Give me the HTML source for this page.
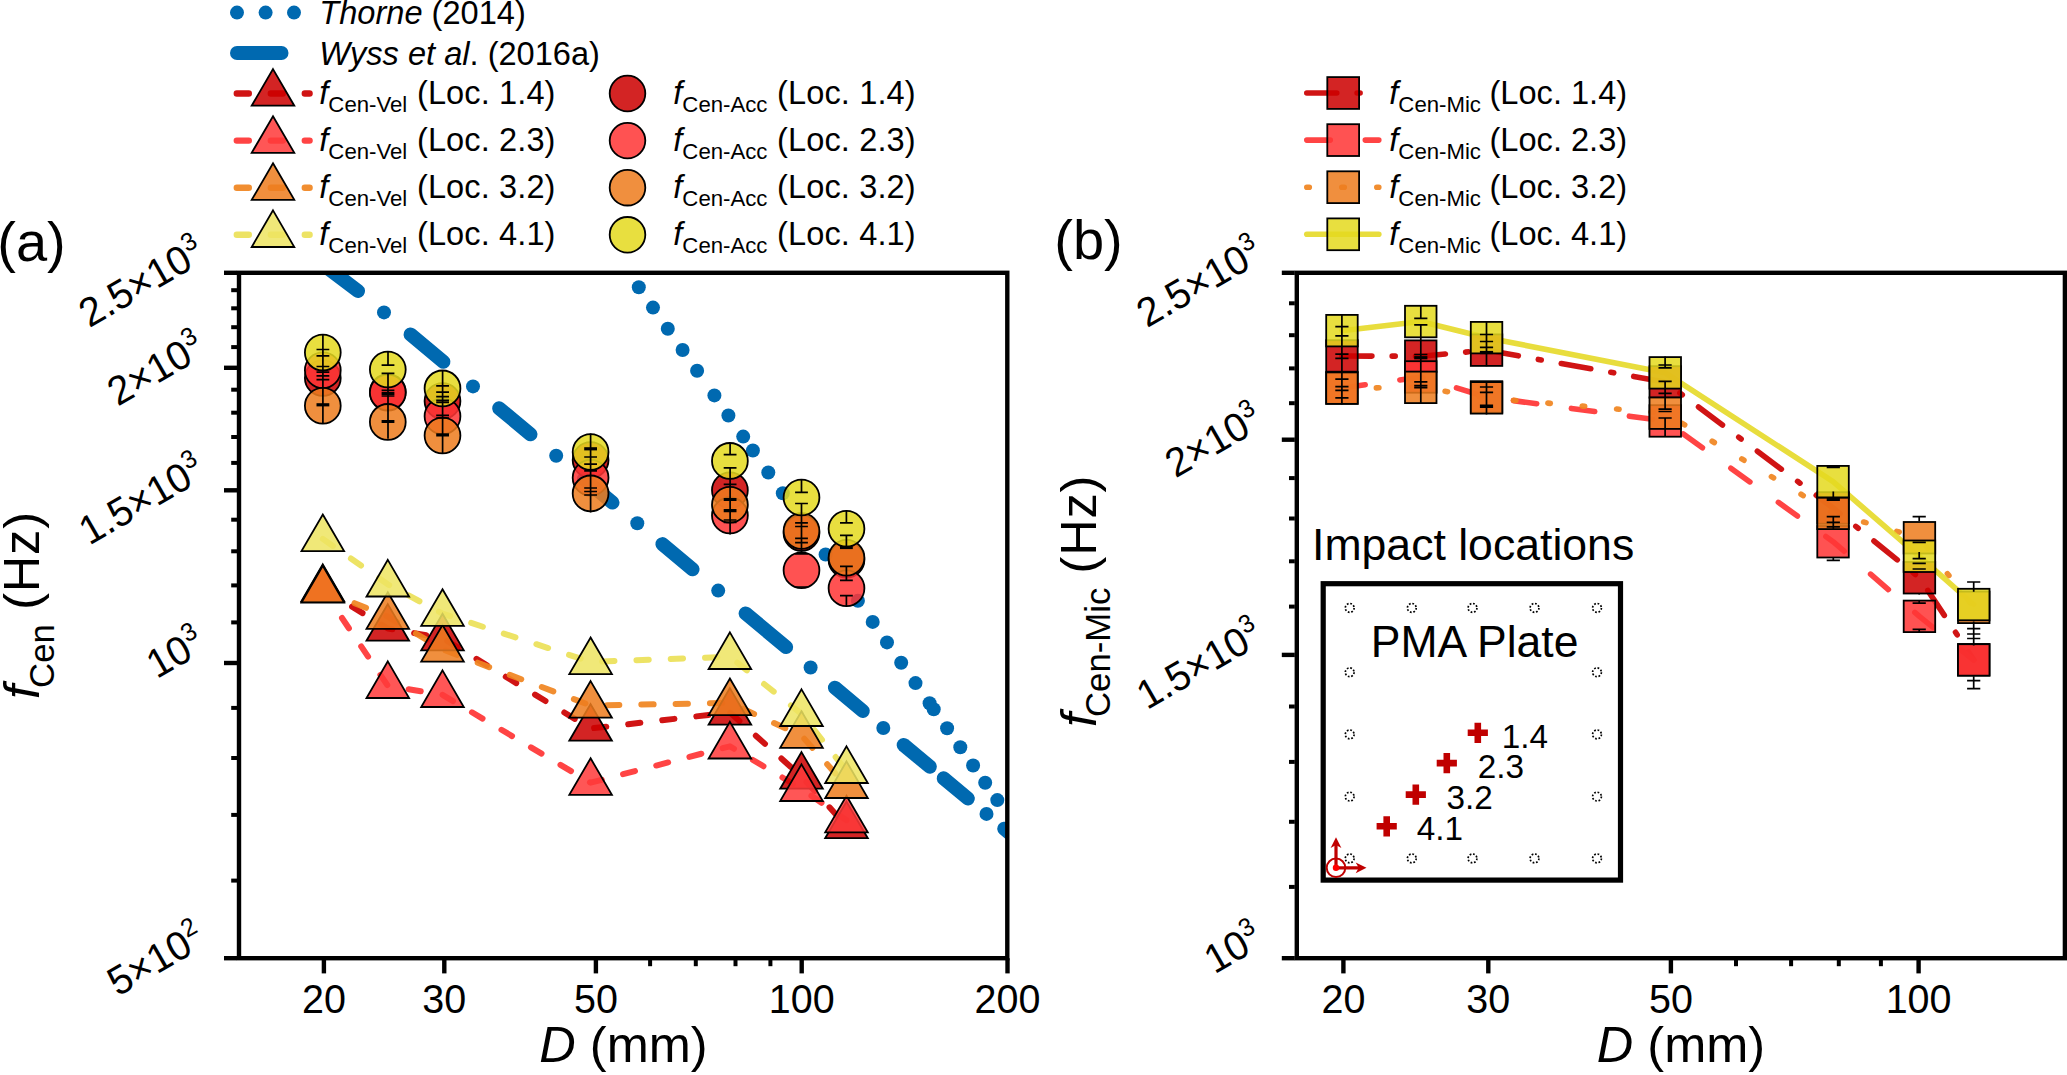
<!DOCTYPE html>
<html><head><meta charset="utf-8"><title>fCen vs D</title>
<style>html,body{margin:0;padding:0;background:#fff;}svg{display:block;}</style></head>
<body>
<svg width="2067" height="1075" viewBox="0 0 2067 1075" font-family='"Liberation Sans", sans-serif' fill="#000">
<rect width="2067" height="1075" fill="#fff"/>
<defs><clipPath id="ca"><rect x="239.0" y="272.8" width="768.3" height="685.4000000000001"/></clipPath><clipPath id="cb"><rect x="1296.8" y="272.8" width="768.1000000000001" height="685.4000000000001"/></clipPath></defs>
<g clip-path="url(#ca)">
<line x1="410.5" y1="334.4" x2="443.4" y2="361.8" stroke="#0069b0" stroke-width="14" stroke-linecap="round"/>
<line x1="499.2" y1="408.3" x2="530.5" y2="434.3" stroke="#0069b0" stroke-width="14" stroke-linecap="round"/>
<line x1="584.0" y1="478.9" x2="612.5" y2="502.6" stroke="#0069b0" stroke-width="14" stroke-linecap="round"/>
<line x1="662.4" y1="544.1" x2="692.6" y2="569.3" stroke="#0069b0" stroke-width="14" stroke-linecap="round"/>
<line x1="745.6" y1="613.4" x2="786.1" y2="647.1" stroke="#0069b0" stroke-width="14" stroke-linecap="round"/>
<line x1="834.9" y1="687.7" x2="862.8" y2="711.0" stroke="#0069b0" stroke-width="14" stroke-linecap="round"/>
<line x1="903.7" y1="745.0" x2="929.8" y2="766.7" stroke="#0069b0" stroke-width="14" stroke-linecap="round"/>
<line x1="943.7" y1="778.3" x2="967.9" y2="798.5" stroke="#0069b0" stroke-width="14" stroke-linecap="round"/>
<line x1="1004.2" y1="828.7" x2="1015.0" y2="837.7" stroke="#0069b0" stroke-width="14" stroke-linecap="round"/>
<circle cx="384.0" cy="312.4" r="7" fill="#0069b0"/>
<circle cx="473.0" cy="386.4" r="7" fill="#0069b0"/>
<circle cx="556.2" cy="455.7" r="7" fill="#0069b0"/>
<circle cx="637.3" cy="523.2" r="7" fill="#0069b0"/>
<circle cx="718.2" cy="590.6" r="7" fill="#0069b0"/>
<circle cx="810.6" cy="667.5" r="7" fill="#0069b0"/>
<circle cx="883.3" cy="728.0" r="7" fill="#0069b0"/>
<circle cx="986.5" cy="813.9" r="7" fill="#0069b0"/>
<line x1="314" y1="257.7" x2="358" y2="291.0" stroke="#0069b0" stroke-width="14" stroke-linecap="round"/>
<circle cx="638.8" cy="287.3" r="7" fill="#0069b0"/>
<circle cx="653.0" cy="307.6" r="7" fill="#0069b0"/>
<circle cx="667.8" cy="328.8" r="7" fill="#0069b0"/>
<circle cx="682.6" cy="350.0" r="7" fill="#0069b0"/>
<circle cx="697.1" cy="370.7" r="7" fill="#0069b0"/>
<circle cx="714.4" cy="395.4" r="7" fill="#0069b0"/>
<circle cx="728.4" cy="415.5" r="7" fill="#0069b0"/>
<circle cx="743.2" cy="436.6" r="7" fill="#0069b0"/>
<circle cx="752.9" cy="450.5" r="7" fill="#0069b0"/>
<circle cx="768.3" cy="472.5" r="7" fill="#0069b0"/>
<circle cx="782.8" cy="493.3" r="7" fill="#0069b0"/>
<circle cx="825.6" cy="554.5" r="7" fill="#0069b0"/>
<circle cx="857.9" cy="600.7" r="7" fill="#0069b0"/>
<circle cx="872.7" cy="621.9" r="7" fill="#0069b0"/>
<circle cx="887.0" cy="642.4" r="7" fill="#0069b0"/>
<circle cx="901.2" cy="662.7" r="7" fill="#0069b0"/>
<circle cx="915.5" cy="683.1" r="7" fill="#0069b0"/>
<circle cx="929.6" cy="703.3" r="7" fill="#0069b0"/>
<circle cx="933.7" cy="709.2" r="7" fill="#0069b0"/>
<circle cx="947.1" cy="728.3" r="7" fill="#0069b0"/>
<circle cx="960.3" cy="747.2" r="7" fill="#0069b0"/>
<circle cx="973.1" cy="765.5" r="7" fill="#0069b0"/>
<circle cx="985.2" cy="782.8" r="7" fill="#0069b0"/>
<circle cx="997.3" cy="800.1" r="7" fill="#0069b0"/>
</g>
<g clip-path="url(#ca)">
<polyline points="322.8,588.8 387.8,628.5 442.5,638.1 590.6,728.5 729.9,712.5 801.5,776.5 846.5,826.0" fill="none" stroke="#cc0000" stroke-width="6" stroke-linecap="round" stroke-linejoin="round" stroke-dasharray="12.3 22.0" stroke-opacity="0.92"/>
<polyline points="322.8,589.6 387.8,685.8 442.5,694.8 590.6,782.7 729.9,746.3 801.5,788.8 846.5,820.2" fill="none" stroke="#ff3434" stroke-width="6" stroke-linecap="round" stroke-linejoin="round" stroke-dasharray="12.3 22.0" stroke-opacity="0.92"/>
<polyline points="322.8,590.3 387.8,616.6 442.5,649.4 590.6,705.5 729.9,702.9 801.5,735.6 846.5,785.8" fill="none" stroke="#f08420" stroke-width="6" stroke-linecap="round" stroke-linejoin="round" stroke-dasharray="12.3 22.0" stroke-opacity="0.92"/>
<polyline points="322.8,538.9 387.8,584.3 442.5,613.6 590.6,661.9 729.9,656.8 801.5,713.8 846.5,770.8" fill="none" stroke="#ece158" stroke-width="6" stroke-linecap="round" stroke-linejoin="round" stroke-dasharray="12.3 22.0" stroke-opacity="0.92"/>
</g>
<path d="M322.8,564.4 L344.1,601.0 L301.5,601.0 Z" fill="#cc0000" fill-opacity="0.86" stroke="#000" stroke-width="1.8" stroke-linejoin="miter"/>
<path d="M387.8,604.1 L409.1,640.7 L366.5,640.7 Z" fill="#cc0000" fill-opacity="0.86" stroke="#000" stroke-width="1.8" stroke-linejoin="miter"/>
<path d="M442.5,613.7 L463.8,650.3 L421.2,650.3 Z" fill="#cc0000" fill-opacity="0.86" stroke="#000" stroke-width="1.8" stroke-linejoin="miter"/>
<path d="M590.6,704.1 L611.9,740.7 L569.3,740.7 Z" fill="#cc0000" fill-opacity="0.86" stroke="#000" stroke-width="1.8" stroke-linejoin="miter"/>
<path d="M729.9,688.1 L751.2,724.7 L708.6,724.7 Z" fill="#cc0000" fill-opacity="0.86" stroke="#000" stroke-width="1.8" stroke-linejoin="miter"/>
<path d="M801.5,752.1 L822.8,788.7 L780.2,788.7 Z" fill="#cc0000" fill-opacity="0.86" stroke="#000" stroke-width="1.8" stroke-linejoin="miter"/>
<path d="M846.5,801.6 L867.8,838.2 L825.2,838.2 Z" fill="#cc0000" fill-opacity="0.86" stroke="#000" stroke-width="1.8" stroke-linejoin="miter"/>
<path d="M322.8,565.2 L344.1,601.8 L301.5,601.8 Z" fill="#ff3a3a" fill-opacity="0.86" stroke="#000" stroke-width="1.8" stroke-linejoin="miter"/>
<path d="M387.8,661.4 L409.1,698.0 L366.5,698.0 Z" fill="#ff3a3a" fill-opacity="0.86" stroke="#000" stroke-width="1.8" stroke-linejoin="miter"/>
<path d="M442.5,670.4 L463.8,707.0 L421.2,707.0 Z" fill="#ff3a3a" fill-opacity="0.86" stroke="#000" stroke-width="1.8" stroke-linejoin="miter"/>
<path d="M590.6,758.3 L611.9,794.9 L569.3,794.9 Z" fill="#ff3a3a" fill-opacity="0.86" stroke="#000" stroke-width="1.8" stroke-linejoin="miter"/>
<path d="M729.9,721.9 L751.2,758.5 L708.6,758.5 Z" fill="#ff3a3a" fill-opacity="0.86" stroke="#000" stroke-width="1.8" stroke-linejoin="miter"/>
<path d="M801.5,764.4 L822.8,801.0 L780.2,801.0 Z" fill="#ff3a3a" fill-opacity="0.86" stroke="#000" stroke-width="1.8" stroke-linejoin="miter"/>
<path d="M846.5,795.8 L867.8,832.4 L825.2,832.4 Z" fill="#ff3a3a" fill-opacity="0.86" stroke="#000" stroke-width="1.8" stroke-linejoin="miter"/>
<path d="M322.8,565.9 L344.1,602.5 L301.5,602.5 Z" fill="#ed7d1e" fill-opacity="0.86" stroke="#000" stroke-width="1.8" stroke-linejoin="miter"/>
<path d="M387.8,592.2 L409.1,628.8 L366.5,628.8 Z" fill="#ed7d1e" fill-opacity="0.86" stroke="#000" stroke-width="1.8" stroke-linejoin="miter"/>
<path d="M442.5,625.0 L463.8,661.6 L421.2,661.6 Z" fill="#ed7d1e" fill-opacity="0.86" stroke="#000" stroke-width="1.8" stroke-linejoin="miter"/>
<path d="M590.6,681.1 L611.9,717.7 L569.3,717.7 Z" fill="#ed7d1e" fill-opacity="0.86" stroke="#000" stroke-width="1.8" stroke-linejoin="miter"/>
<path d="M729.9,678.5 L751.2,715.1 L708.6,715.1 Z" fill="#ed7d1e" fill-opacity="0.86" stroke="#000" stroke-width="1.8" stroke-linejoin="miter"/>
<path d="M801.5,711.2 L822.8,747.8 L780.2,747.8 Z" fill="#ed7d1e" fill-opacity="0.86" stroke="#000" stroke-width="1.8" stroke-linejoin="miter"/>
<path d="M846.5,761.4 L867.8,798.0 L825.2,798.0 Z" fill="#ed7d1e" fill-opacity="0.86" stroke="#000" stroke-width="1.8" stroke-linejoin="miter"/>
<path d="M322.8,514.5 L344.1,551.1 L301.5,551.1 Z" fill="#eee462" fill-opacity="0.86" stroke="#000" stroke-width="1.8" stroke-linejoin="miter"/>
<path d="M387.8,559.9 L409.1,596.5 L366.5,596.5 Z" fill="#eee462" fill-opacity="0.86" stroke="#000" stroke-width="1.8" stroke-linejoin="miter"/>
<path d="M442.5,589.2 L463.8,625.8 L421.2,625.8 Z" fill="#eee462" fill-opacity="0.86" stroke="#000" stroke-width="1.8" stroke-linejoin="miter"/>
<path d="M590.6,637.5 L611.9,674.1 L569.3,674.1 Z" fill="#eee462" fill-opacity="0.86" stroke="#000" stroke-width="1.8" stroke-linejoin="miter"/>
<path d="M729.9,632.4 L751.2,669.0 L708.6,669.0 Z" fill="#eee462" fill-opacity="0.86" stroke="#000" stroke-width="1.8" stroke-linejoin="miter"/>
<path d="M801.5,689.4 L822.8,726.0 L780.2,726.0 Z" fill="#eee462" fill-opacity="0.86" stroke="#000" stroke-width="1.8" stroke-linejoin="miter"/>
<path d="M846.5,746.4 L867.8,783.0 L825.2,783.0 Z" fill="#eee462" fill-opacity="0.86" stroke="#000" stroke-width="1.8" stroke-linejoin="miter"/>
<circle cx="322.8" cy="378.0" r="17.9" fill="#cc0000" fill-opacity="0.86" stroke="#000" stroke-width="1.8"/>
<circle cx="387.8" cy="392.0" r="17.9" fill="#cc0000" fill-opacity="0.86" stroke="#000" stroke-width="1.8"/>
<circle cx="442.5" cy="401.0" r="17.9" fill="#cc0000" fill-opacity="0.86" stroke="#000" stroke-width="1.8"/>
<circle cx="590.6" cy="460.0" r="17.9" fill="#cc0000" fill-opacity="0.86" stroke="#000" stroke-width="1.8"/>
<circle cx="729.9" cy="490.2" r="17.9" fill="#cc0000" fill-opacity="0.86" stroke="#000" stroke-width="1.8"/>
<circle cx="801.5" cy="533.0" r="17.9" fill="#cc0000" fill-opacity="0.86" stroke="#000" stroke-width="1.8"/>
<circle cx="846.5" cy="559.7" r="17.9" fill="#cc0000" fill-opacity="0.86" stroke="#000" stroke-width="1.8"/>
<circle cx="322.8" cy="370.2" r="17.9" fill="#ff3636" fill-opacity="0.86" stroke="#000" stroke-width="1.8"/>
<circle cx="387.8" cy="392.6" r="17.9" fill="#ff3636" fill-opacity="0.86" stroke="#000" stroke-width="1.8"/>
<circle cx="442.5" cy="416.3" r="17.9" fill="#ff3636" fill-opacity="0.86" stroke="#000" stroke-width="1.8"/>
<circle cx="590.6" cy="477.7" r="17.9" fill="#ff3636" fill-opacity="0.86" stroke="#000" stroke-width="1.8"/>
<circle cx="729.9" cy="515.4" r="17.9" fill="#ff3636" fill-opacity="0.86" stroke="#000" stroke-width="1.8"/>
<circle cx="801.5" cy="570.2" r="17.9" fill="#ff3636" fill-opacity="0.86" stroke="#000" stroke-width="1.8"/>
<circle cx="846.5" cy="588.2" r="17.9" fill="#ff3636" fill-opacity="0.86" stroke="#000" stroke-width="1.8"/>
<circle cx="322.8" cy="405.8" r="17.9" fill="#ed7d1e" fill-opacity="0.86" stroke="#000" stroke-width="1.8"/>
<circle cx="387.8" cy="421.9" r="17.9" fill="#ed7d1e" fill-opacity="0.86" stroke="#000" stroke-width="1.8"/>
<circle cx="442.5" cy="435.5" r="17.9" fill="#ed7d1e" fill-opacity="0.86" stroke="#000" stroke-width="1.8"/>
<circle cx="590.6" cy="493.4" r="17.9" fill="#ed7d1e" fill-opacity="0.86" stroke="#000" stroke-width="1.8"/>
<circle cx="729.9" cy="504.7" r="17.9" fill="#ed7d1e" fill-opacity="0.86" stroke="#000" stroke-width="1.8"/>
<circle cx="801.5" cy="531.0" r="17.9" fill="#ed7d1e" fill-opacity="0.86" stroke="#000" stroke-width="1.8"/>
<circle cx="846.5" cy="557.8" r="17.9" fill="#ed7d1e" fill-opacity="0.86" stroke="#000" stroke-width="1.8"/>
<circle cx="322.8" cy="352.6" r="17.9" fill="#e4da20" fill-opacity="0.86" stroke="#000" stroke-width="1.8"/>
<circle cx="387.8" cy="369.5" r="17.9" fill="#e4da20" fill-opacity="0.86" stroke="#000" stroke-width="1.8"/>
<circle cx="442.5" cy="388.4" r="17.9" fill="#e4da20" fill-opacity="0.86" stroke="#000" stroke-width="1.8"/>
<circle cx="590.6" cy="452.0" r="17.9" fill="#e4da20" fill-opacity="0.86" stroke="#000" stroke-width="1.8"/>
<circle cx="729.9" cy="460.9" r="17.9" fill="#e4da20" fill-opacity="0.86" stroke="#000" stroke-width="1.8"/>
<circle cx="801.5" cy="497.5" r="17.9" fill="#e4da20" fill-opacity="0.86" stroke="#000" stroke-width="1.8"/>
<circle cx="846.5" cy="528.8" r="17.9" fill="#e4da20" fill-opacity="0.86" stroke="#000" stroke-width="1.8"/>
<path d="M322.9,334.4 V423.6 M316.5,349.5 H329.3 M316.5,355.8 H329.3 M316.5,366.5 H329.3 M316.5,372.1 H329.3 M316.5,375.9 H329.3 M316.5,379.6 H329.3 " fill="none" stroke="#000" stroke-width="1.7"/>
<path d="M316.5,404.8 H329.3 " fill="none" stroke="#000" stroke-width="3.2"/>
<path d="M388.0,351.4 V365.2 M388.0,373.4 V438.7 M381.6,365.2 H394.4 M381.6,373.4 H394.4 M381.6,390.3 H394.4 M381.6,396.0 H394.4 " fill="none" stroke="#000" stroke-width="1.7"/>
<path d="M381.6,393.5 H394.4 M381.6,421.5 H394.4 " fill="none" stroke="#000" stroke-width="3.2"/>
<path d="M442.6,370.2 V453.1 M436.2,385.9 H449.0 M436.2,392.2 H449.0 M436.2,396.6 H449.0 M436.2,400.4 H449.0 M436.2,402.3 H449.0 M436.2,415.4 H449.0 M436.2,418.0 H449.0 " fill="none" stroke="#000" stroke-width="1.7"/>
<path d="M436.2,434.9 H449.0 " fill="none" stroke="#000" stroke-width="3.2"/>
<path d="M590.6,433.4 V512.4 M584.2,457.0 H597.0 M584.2,464.2 H597.0 M584.2,470.9 H597.0 M584.2,488.0 H597.0 M584.2,491.5 H597.0 M584.2,495.0 H597.0 " fill="none" stroke="#000" stroke-width="1.7"/>
<path d="M584.2,448.8 H597.0 " fill="none" stroke="#000" stroke-width="3.2"/>
<path d="M730.1,443.3 V454.7 M730.1,467.9 V534.5 M723.7,454.7 H736.5 M723.7,467.9 H736.5 M723.7,484.3 H736.5 M723.7,520.0 H736.5 M723.7,522.3 H736.5 " fill="none" stroke="#000" stroke-width="1.7"/>
<path d="M723.7,499.5 H736.5 M723.7,510.7 H736.5 " fill="none" stroke="#000" stroke-width="3.2"/>
<path d="M801.5,479.8 V492.3 M801.5,503.5 V553.8 M795.1,492.3 H807.9 M795.1,503.5 H807.9 M795.1,522.8 H807.9 M795.1,526.5 H807.9 M795.1,538.4 H807.9 M795.1,542.6 H807.9 M795.1,553.8 H807.9 M795.1,587.0 H807.9 " fill="none" stroke="#000" stroke-width="1.7"/>
<path d="M846.4,510.5 V522.8 M846.4,535.3 V547.5 M846.4,566.3 V580.3 M846.4,595.6 V606.1 M840.0,522.8 H852.8 M840.0,535.3 H852.8 M840.0,566.3 H852.8 M840.0,580.3 H852.8 M840.0,595.6 H852.8 " fill="none" stroke="#000" stroke-width="1.7"/>
<path d="M840.0,547.5 H852.8 " fill="none" stroke="#000" stroke-width="3.2"/>
<rect x="239.0" y="272.8" width="768.3" height="685.4000000000001" fill="none" stroke="#000" stroke-width="4.4"/>
<line x1="231.2" y1="880.6" x2="237.0" y2="880.6" stroke="#000" stroke-width="4.0"/>
<line x1="231.2" y1="814.9" x2="237.0" y2="814.9" stroke="#000" stroke-width="4.0"/>
<line x1="231.2" y1="758.0" x2="237.0" y2="758.0" stroke="#000" stroke-width="4.0"/>
<line x1="231.2" y1="707.9" x2="237.0" y2="707.9" stroke="#000" stroke-width="4.0"/>
<line x1="224.0" y1="663.0" x2="237.0" y2="663.0" stroke="#000" stroke-width="4.4"/>
<line x1="231.2" y1="622.4" x2="237.0" y2="622.4" stroke="#000" stroke-width="4.0"/>
<line x1="231.2" y1="585.4" x2="237.0" y2="585.4" stroke="#000" stroke-width="4.0"/>
<line x1="231.2" y1="551.3" x2="237.0" y2="551.3" stroke="#000" stroke-width="4.0"/>
<line x1="231.2" y1="519.7" x2="237.0" y2="519.7" stroke="#000" stroke-width="4.0"/>
<line x1="224.0" y1="490.3" x2="237.0" y2="490.3" stroke="#000" stroke-width="4.4"/>
<line x1="231.2" y1="462.9" x2="237.0" y2="462.9" stroke="#000" stroke-width="4.0"/>
<line x1="231.2" y1="437.0" x2="237.0" y2="437.0" stroke="#000" stroke-width="4.0"/>
<line x1="231.2" y1="412.7" x2="237.0" y2="412.7" stroke="#000" stroke-width="4.0"/>
<line x1="231.2" y1="389.7" x2="237.0" y2="389.7" stroke="#000" stroke-width="4.0"/>
<line x1="224.0" y1="367.8" x2="237.0" y2="367.8" stroke="#000" stroke-width="4.4"/>
<line x1="231.2" y1="347.1" x2="237.0" y2="347.1" stroke="#000" stroke-width="4.0"/>
<line x1="231.2" y1="327.2" x2="237.0" y2="327.2" stroke="#000" stroke-width="4.0"/>
<line x1="231.2" y1="308.3" x2="237.0" y2="308.3" stroke="#000" stroke-width="4.0"/>
<line x1="231.2" y1="290.2" x2="237.0" y2="290.2" stroke="#000" stroke-width="4.0"/>
<line x1="224.0" y1="272.8" x2="237.0" y2="272.8" stroke="#000" stroke-width="4.4"/>
<line x1="224.0" y1="958.2" x2="237.0" y2="958.2" stroke="#000" stroke-width="4.4"/>
<line x1="323.9" y1="958.2" x2="323.9" y2="973.4" stroke="#000" stroke-width="4.4"/>
<line x1="444.3" y1="958.2" x2="444.3" y2="973.4" stroke="#000" stroke-width="4.4"/>
<line x1="595.9" y1="958.2" x2="595.9" y2="973.4" stroke="#000" stroke-width="4.4"/>
<line x1="801.7" y1="958.2" x2="801.7" y2="973.4" stroke="#000" stroke-width="4.4"/>
<line x1="1007.5" y1="958.2" x2="1007.5" y2="973.4" stroke="#000" stroke-width="4.4"/>
<line x1="650.1" y1="958.2" x2="650.1" y2="966.2" stroke="#000" stroke-width="4.0"/>
<line x1="695.8" y1="958.2" x2="695.8" y2="966.2" stroke="#000" stroke-width="4.0"/>
<line x1="735.5" y1="958.2" x2="735.5" y2="966.2" stroke="#000" stroke-width="4.0"/>
<line x1="770.4" y1="958.2" x2="770.4" y2="966.2" stroke="#000" stroke-width="4.0"/>
<g transform="translate(194.8,267.2) rotate(-30) scale(1,1.025)"><text x="0" y="0" text-anchor="end" font-size="39.5">2.5×10</text><text x="0.5" y="-16" font-size="25">3</text></g>
<g transform="translate(194.8,362.2) rotate(-30) scale(1,1.025)"><text x="0" y="0" text-anchor="end" font-size="39.5">2×10</text><text x="0.5" y="-16" font-size="25">3</text></g>
<g transform="translate(194.8,484.7) rotate(-30) scale(1,1.025)"><text x="0" y="0" text-anchor="end" font-size="39.5">1.5×10</text><text x="0.5" y="-16" font-size="25">3</text></g>
<g transform="translate(194.8,657.4) rotate(-30) scale(1,1.025)"><text x="0" y="0" text-anchor="end" font-size="39.5">10</text><text x="0.5" y="-16" font-size="25">3</text></g>
<g transform="translate(194.8,952.6) rotate(-30) scale(1,1.025)"><text x="0" y="0" text-anchor="end" font-size="39.5">5×10</text><text x="0.5" y="-16" font-size="25">2</text></g>
<text transform="translate(323.9,1013.0) scale(1,1.025)" text-anchor="middle" font-size="39.5">20</text>
<text transform="translate(444.3,1013.0) scale(1,1.025)" text-anchor="middle" font-size="39.5">30</text>
<text transform="translate(595.9,1013.0) scale(1,1.025)" text-anchor="middle" font-size="39.5">50</text>
<text transform="translate(801.7,1013.0) scale(1,1.025)" text-anchor="middle" font-size="39.5">100</text>
<text transform="translate(1007.5,1013.0) scale(1,1.025)" text-anchor="middle" font-size="39.5">200</text>
<g clip-path="url(#cb)">
<polyline points="1341.9,356.0 1420.8,356.2 1486.5,350.2 1665.2,382.0 1833.1,508.0 1919.4,577.7 1973.7,659.8" fill="none" stroke="#cc0000" stroke-width="5.6" stroke-linecap="round" stroke-linejoin="round" stroke-dasharray="30 20.3 3 20.3" stroke-opacity="0.92"/>
<polyline points="1341.9,388.0 1420.8,377.0 1486.5,397.0 1665.2,421.0 1833.1,541.7 1919.4,616.4 1973.7,660.0" fill="none" stroke="#ff3434" stroke-width="5.6" stroke-linecap="round" stroke-linejoin="round" stroke-dasharray="23.5 35" stroke-opacity="0.92"/>
<polyline points="1341.9,388.2 1420.8,387.4 1486.5,397.9 1665.2,413.2 1833.1,513.4 1919.4,537.7 1973.7,607.4" fill="none" stroke="#f08420" stroke-width="5.6" stroke-linecap="round" stroke-linejoin="round" stroke-dasharray="2.5 32.0" stroke-opacity="0.92"/>
<polyline points="1341.9,330.7 1420.8,321.5 1486.5,337.7 1665.2,372.8 1833.1,481.7 1919.4,556.3 1973.7,604.5" fill="none" stroke="#e6da2c" stroke-width="5.6" stroke-linecap="round" stroke-linejoin="round" stroke-opacity="0.92"/>
</g>
<rect x="1326.2" y="340.2" width="31.5" height="31.5" fill="#cc0000" fill-opacity="0.86" stroke="#000" stroke-width="1.8"/>
<rect x="1405.0" y="340.4" width="31.5" height="31.5" fill="#cc0000" fill-opacity="0.86" stroke="#000" stroke-width="1.8"/>
<rect x="1470.8" y="334.4" width="31.5" height="31.5" fill="#cc0000" fill-opacity="0.86" stroke="#000" stroke-width="1.8"/>
<rect x="1649.5" y="366.2" width="31.5" height="31.5" fill="#cc0000" fill-opacity="0.86" stroke="#000" stroke-width="1.8"/>
<rect x="1817.3" y="492.2" width="31.5" height="31.5" fill="#cc0000" fill-opacity="0.86" stroke="#000" stroke-width="1.8"/>
<rect x="1903.7" y="562.0" width="31.5" height="31.5" fill="#cc0000" fill-opacity="0.86" stroke="#000" stroke-width="1.8"/>
<rect x="1958.0" y="644.0" width="31.5" height="31.5" fill="#cc0000" fill-opacity="0.86" stroke="#000" stroke-width="1.8"/>
<rect x="1326.2" y="372.2" width="31.5" height="31.5" fill="#ff3636" fill-opacity="0.86" stroke="#000" stroke-width="1.8"/>
<rect x="1405.0" y="361.2" width="31.5" height="31.5" fill="#ff3636" fill-opacity="0.86" stroke="#000" stroke-width="1.8"/>
<rect x="1470.8" y="381.2" width="31.5" height="31.5" fill="#ff3636" fill-opacity="0.86" stroke="#000" stroke-width="1.8"/>
<rect x="1649.5" y="405.2" width="31.5" height="31.5" fill="#ff3636" fill-opacity="0.86" stroke="#000" stroke-width="1.8"/>
<rect x="1817.3" y="526.0" width="31.5" height="31.5" fill="#ff3636" fill-opacity="0.86" stroke="#000" stroke-width="1.8"/>
<rect x="1903.7" y="600.6" width="31.5" height="31.5" fill="#ff3636" fill-opacity="0.86" stroke="#000" stroke-width="1.8"/>
<rect x="1958.0" y="644.2" width="31.5" height="31.5" fill="#ff3636" fill-opacity="0.86" stroke="#000" stroke-width="1.8"/>
<rect x="1326.2" y="372.4" width="31.5" height="31.5" fill="#ed7d1e" fill-opacity="0.86" stroke="#000" stroke-width="1.8"/>
<rect x="1405.0" y="371.6" width="31.5" height="31.5" fill="#ed7d1e" fill-opacity="0.86" stroke="#000" stroke-width="1.8"/>
<rect x="1470.8" y="382.1" width="31.5" height="31.5" fill="#ed7d1e" fill-opacity="0.86" stroke="#000" stroke-width="1.8"/>
<rect x="1649.5" y="397.4" width="31.5" height="31.5" fill="#ed7d1e" fill-opacity="0.86" stroke="#000" stroke-width="1.8"/>
<rect x="1817.3" y="497.6" width="31.5" height="31.5" fill="#ed7d1e" fill-opacity="0.86" stroke="#000" stroke-width="1.8"/>
<rect x="1903.7" y="522.0" width="31.5" height="31.5" fill="#ed7d1e" fill-opacity="0.86" stroke="#000" stroke-width="1.8"/>
<rect x="1958.0" y="591.6" width="31.5" height="31.5" fill="#ed7d1e" fill-opacity="0.86" stroke="#000" stroke-width="1.8"/>
<rect x="1326.2" y="314.9" width="31.5" height="31.5" fill="#e4da20" fill-opacity="0.86" stroke="#000" stroke-width="1.8"/>
<rect x="1405.0" y="305.8" width="31.5" height="31.5" fill="#e4da20" fill-opacity="0.86" stroke="#000" stroke-width="1.8"/>
<rect x="1470.8" y="321.9" width="31.5" height="31.5" fill="#e4da20" fill-opacity="0.86" stroke="#000" stroke-width="1.8"/>
<rect x="1649.5" y="357.1" width="31.5" height="31.5" fill="#e4da20" fill-opacity="0.86" stroke="#000" stroke-width="1.8"/>
<rect x="1817.3" y="465.9" width="31.5" height="31.5" fill="#e4da20" fill-opacity="0.86" stroke="#000" stroke-width="1.8"/>
<rect x="1903.7" y="540.5" width="31.5" height="31.5" fill="#e4da20" fill-opacity="0.86" stroke="#000" stroke-width="1.8"/>
<rect x="1958.0" y="588.8" width="31.5" height="31.5" fill="#e4da20" fill-opacity="0.86" stroke="#000" stroke-width="1.8"/>
<path d="M1341.9,314.7 V404.4 M1335.3,326.7 H1348.5 M1335.3,335.9 H1348.5 M1335.3,354.1 H1348.5 M1335.3,358.4 H1348.5 M1335.3,379.2 H1348.5 M1335.3,386.7 H1348.5 M1335.3,390.3 H1348.5 M1335.3,397.9 H1348.5 " fill="none" stroke="#000" stroke-width="1.7"/>
<path d="M1420.8,305.4 V318.4 M1420.8,324.9 V403.3 M1414.2,318.4 H1427.4 M1414.2,324.9 H1427.4 M1414.2,354.5 H1427.4 M1414.2,381.8 H1427.4 M1414.2,385.7 H1427.4 M1414.2,387.7 H1427.4 " fill="none" stroke="#000" stroke-width="1.7"/>
<path d="M1414.2,357.7 H1427.4 " fill="none" stroke="#000" stroke-width="3.2"/>
<path d="M1486.5,321.7 V366.2 M1486.5,381.2 V414.4 M1479.9,334.5 H1493.1 M1479.9,341.5 H1493.1 M1479.9,347.3 H1493.1 M1479.9,387.0 H1493.1 M1479.9,392.3 H1493.1 M1479.9,405.3 H1493.1 M1479.9,407.2 H1493.1 " fill="none" stroke="#000" stroke-width="1.7"/>
<path d="M1479.9,352.5 H1493.1 " fill="none" stroke="#000" stroke-width="3.2"/>
<path d="M1665.1,356.6 V367.8 M1665.1,381.3 V409.2 M1665.1,418.0 V437.1 M1658.5,365.0 H1671.7 M1658.5,367.8 H1671.7 M1658.5,381.3 H1671.7 M1658.5,393.4 H1671.7 M1658.5,409.2 H1671.7 M1658.5,411.5 H1671.7 M1658.5,418.0 H1671.7 " fill="none" stroke="#000" stroke-width="1.7"/>
<path d="M1833.3,491.5 V498.0 M1833.3,516.6 V529.5 M1833.3,557.6 V560.3 M1826.7,516.6 H1839.9 M1826.7,522.3 H1839.9 M1826.7,526.8 H1839.9 M1826.7,560.3 H1839.9 " fill="none" stroke="#000" stroke-width="1.7"/>
<path d="M1826.7,466.6 H1839.9 M1826.7,499.4 H1839.9 " fill="none" stroke="#000" stroke-width="3.2"/>
<path d="M1919.2,516.6 V521.1 M1919.2,551.9 V558.7 M1919.2,600.2 V603.2 M1919.2,629.4 V632.6 M1919.2,593.4 V594.5 M1912.6,516.6 H1925.8 M1912.6,542.3 H1925.8 M1912.6,558.7 H1925.8 M1912.6,563.3 H1925.8 M1912.6,569.0 H1925.8 M1912.6,603.2 H1925.8 M1912.6,629.4 H1925.8 " fill="none" stroke="#000" stroke-width="1.7"/>
<path d="M1973.7,582.0 V591.8 M1973.7,621.4 V645.4 M1973.7,676.2 V688.7 M1967.1,582.0 H1980.3 M1967.1,628.7 H1980.3 M1967.1,634.0 H1980.3 M1967.1,638.5 H1980.3 M1967.1,680.7 H1980.3 M1967.1,688.7 H1980.3 " fill="none" stroke="#000" stroke-width="1.7"/>
<rect x="1296.8" y="272.8" width="768.1000000000001" height="685.4000000000001" fill="none" stroke="#000" stroke-width="4.4"/>
<line x1="1289.0" y1="886.9" x2="1294.8" y2="886.9" stroke="#000" stroke-width="4.0"/>
<line x1="1289.0" y1="821.8" x2="1294.8" y2="821.8" stroke="#000" stroke-width="4.0"/>
<line x1="1289.0" y1="761.9" x2="1294.8" y2="761.9" stroke="#000" stroke-width="4.0"/>
<line x1="1289.0" y1="706.5" x2="1294.8" y2="706.5" stroke="#000" stroke-width="4.0"/>
<line x1="1281.8" y1="654.9" x2="1294.8" y2="654.9" stroke="#000" stroke-width="4.4"/>
<line x1="1289.0" y1="606.6" x2="1294.8" y2="606.6" stroke="#000" stroke-width="4.0"/>
<line x1="1289.0" y1="561.3" x2="1294.8" y2="561.3" stroke="#000" stroke-width="4.0"/>
<line x1="1289.0" y1="518.5" x2="1294.8" y2="518.5" stroke="#000" stroke-width="4.0"/>
<line x1="1289.0" y1="478.1" x2="1294.8" y2="478.1" stroke="#000" stroke-width="4.0"/>
<line x1="1281.8" y1="439.7" x2="1294.8" y2="439.7" stroke="#000" stroke-width="4.4"/>
<line x1="1289.0" y1="403.2" x2="1294.8" y2="403.2" stroke="#000" stroke-width="4.0"/>
<line x1="1289.0" y1="368.4" x2="1294.8" y2="368.4" stroke="#000" stroke-width="4.0"/>
<line x1="1289.0" y1="335.2" x2="1294.8" y2="335.2" stroke="#000" stroke-width="4.0"/>
<line x1="1289.0" y1="303.3" x2="1294.8" y2="303.3" stroke="#000" stroke-width="4.0"/>
<line x1="1281.8" y1="272.8" x2="1294.8" y2="272.8" stroke="#000" stroke-width="4.4"/>
<line x1="1281.8" y1="958.2" x2="1294.8" y2="958.2" stroke="#000" stroke-width="4.4"/>
<line x1="1343.4" y1="958.2" x2="1343.4" y2="973.4" stroke="#000" stroke-width="4.4"/>
<line x1="1488.3" y1="958.2" x2="1488.3" y2="973.4" stroke="#000" stroke-width="4.4"/>
<line x1="1670.9" y1="958.2" x2="1670.9" y2="973.4" stroke="#000" stroke-width="4.4"/>
<line x1="1918.6" y1="958.2" x2="1918.6" y2="973.4" stroke="#000" stroke-width="4.4"/>
<line x1="1736.0" y1="958.2" x2="1736.0" y2="966.2" stroke="#000" stroke-width="4.0"/>
<line x1="1791.1" y1="958.2" x2="1791.1" y2="966.2" stroke="#000" stroke-width="4.0"/>
<line x1="1838.8" y1="958.2" x2="1838.8" y2="966.2" stroke="#000" stroke-width="4.0"/>
<line x1="1880.9" y1="958.2" x2="1880.9" y2="966.2" stroke="#000" stroke-width="4.0"/>
<g transform="translate(1252.6,267.2) rotate(-30) scale(1,1.025)"><text x="0" y="0" text-anchor="end" font-size="39.5">2.5×10</text><text x="0.5" y="-16" font-size="25">3</text></g>
<g transform="translate(1252.6,434.1) rotate(-30) scale(1,1.025)"><text x="0" y="0" text-anchor="end" font-size="39.5">2×10</text><text x="0.5" y="-16" font-size="25">3</text></g>
<g transform="translate(1252.6,649.3) rotate(-30) scale(1,1.025)"><text x="0" y="0" text-anchor="end" font-size="39.5">1.5×10</text><text x="0.5" y="-16" font-size="25">3</text></g>
<g transform="translate(1252.6,952.6) rotate(-30) scale(1,1.025)"><text x="0" y="0" text-anchor="end" font-size="39.5">10</text><text x="0.5" y="-16" font-size="25">3</text></g>
<text transform="translate(1343.4,1013.0) scale(1,1.025)" text-anchor="middle" font-size="39.5">20</text>
<text transform="translate(1488.3,1013.0) scale(1,1.025)" text-anchor="middle" font-size="39.5">30</text>
<text transform="translate(1670.9,1013.0) scale(1,1.025)" text-anchor="middle" font-size="39.5">50</text>
<text transform="translate(1918.6,1013.0) scale(1,1.025)" text-anchor="middle" font-size="39.5">100</text>
<text x="623.5" y="1062" text-anchor="middle" font-size="50.5"><tspan font-style="italic">D</tspan> (mm)</text>
<text x="1681" y="1062" text-anchor="middle" font-size="50.5"><tspan font-style="italic">D</tspan> (mm)</text>
<g transform="translate(38.5,699) rotate(-90)"><text font-size="50.5"><tspan font-style="italic">f</tspan><tspan font-size="34.8" dy="15" dx="-3">Cen</tspan><tspan dy="-15" dx="-0.5" letter-spacing="0.8"> (Hz)</tspan></text></g>
<g transform="translate(1096,727) rotate(-90)"><text font-size="50.5"><tspan font-style="italic">f</tspan><tspan font-size="34.8" dy="14" dx="-4.1">Cen-Mic</tspan><tspan dy="-14" dx="-0.7" letter-spacing="0.8"> (Hz)</tspan></text></g>
<text x="-2.7" y="260.8" font-size="56">(a)</text>
<text x="1054.3" y="258.6" font-size="56">(b)</text>
<circle cx="237" cy="12.6" r="7" fill="#0069b0"/>
<circle cx="265.6" cy="12.6" r="7" fill="#0069b0"/>
<circle cx="294" cy="12.6" r="7" fill="#0069b0"/>
<line x1="237" y1="53" x2="281.5" y2="53" stroke="#0069b0" stroke-width="14" stroke-linecap="round"/>
<text x="319.3" y="24" font-size="32.6"><tspan font-style="italic">Thorne</tspan> (2014)</text>
<text x="319.3" y="65" font-size="32.6"><tspan font-style="italic">Wyss et al</tspan>. (2016a)</text>
<line x1="236.8" y1="93.5" x2="309.6" y2="93.5" stroke="#cc0000" stroke-width="6.4" stroke-linecap="round" stroke-dasharray="12 22" stroke-opacity="0.92"/>
<path d="M273.0,69.1 L294.3,105.7 L251.7,105.7 Z" fill="#cc0000" fill-opacity="0.86" stroke="#000" stroke-width="1.8" stroke-linejoin="miter"/>
<text x="319.3" y="104.1" font-size="32.6"><tspan font-style="italic">f</tspan><tspan font-size="22.2" dy="7.8">Cen-Vel</tspan><tspan dy="-7.8" dx="0.5" letter-spacing="0.1"> (Loc. 1.4)</tspan></text>
<circle cx="627.5" cy="93.5" r="17.8" fill="#cc0000" fill-opacity="0.86" stroke="#000" stroke-width="1.8"/>
<text x="673.3" y="104.1" font-size="32.6"><tspan font-style="italic">f</tspan><tspan font-size="22.2" dy="7.8">Cen-Acc</tspan><tspan dy="-7.8" dx="0.5" letter-spacing="0.1"> (Loc. 1.4)</tspan></text>
<line x1="1306.8" y1="93.0" x2="1378.8" y2="93.0" stroke="#cc0000" stroke-width="5.6" stroke-linecap="round" stroke-dasharray="30 20.3 3 20.3" stroke-opacity="0.92"/>
<rect x="1327.3" y="77.1" width="31.8" height="31.8" fill="#cc0000" fill-opacity="0.86" stroke="#000" stroke-width="1.8"/>
<text x="1389.3" y="104.1" font-size="32.6"><tspan font-style="italic">f</tspan><tspan font-size="22.2" dy="7.8">Cen-Mic</tspan><tspan dy="-7.8" dx="-0.5" letter-spacing="0.0"> (Loc. 1.4)</tspan></text>
<line x1="236.8" y1="140.6" x2="309.6" y2="140.6" stroke="#ff3434" stroke-width="6.4" stroke-linecap="round" stroke-dasharray="12 22" stroke-opacity="0.92"/>
<path d="M273.0,116.2 L294.3,152.8 L251.7,152.8 Z" fill="#ff3a3a" fill-opacity="0.86" stroke="#000" stroke-width="1.8" stroke-linejoin="miter"/>
<text x="319.3" y="151.2" font-size="32.6"><tspan font-style="italic">f</tspan><tspan font-size="22.2" dy="7.8">Cen-Vel</tspan><tspan dy="-7.8" dx="0.5" letter-spacing="0.1"> (Loc. 2.3)</tspan></text>
<circle cx="627.5" cy="140.6" r="17.8" fill="#ff3636" fill-opacity="0.86" stroke="#000" stroke-width="1.8"/>
<text x="673.3" y="151.2" font-size="32.6"><tspan font-style="italic">f</tspan><tspan font-size="22.2" dy="7.8">Cen-Acc</tspan><tspan dy="-7.8" dx="0.5" letter-spacing="0.1"> (Loc. 2.3)</tspan></text>
<line x1="1306.8" y1="140.1" x2="1378.8" y2="140.1" stroke="#ff3434" stroke-width="5.6" stroke-linecap="round" stroke-dasharray="23.5 35" stroke-opacity="0.92"/>
<rect x="1327.3" y="124.2" width="31.8" height="31.8" fill="#ff3636" fill-opacity="0.86" stroke="#000" stroke-width="1.8"/>
<text x="1389.3" y="151.2" font-size="32.6"><tspan font-style="italic">f</tspan><tspan font-size="22.2" dy="7.8">Cen-Mic</tspan><tspan dy="-7.8" dx="-0.5" letter-spacing="0.0"> (Loc. 2.3)</tspan></text>
<line x1="236.8" y1="187.7" x2="309.6" y2="187.7" stroke="#f08420" stroke-width="6.4" stroke-linecap="round" stroke-dasharray="12 22" stroke-opacity="0.92"/>
<path d="M273.0,163.3 L294.3,199.9 L251.7,199.9 Z" fill="#ed7d1e" fill-opacity="0.86" stroke="#000" stroke-width="1.8" stroke-linejoin="miter"/>
<text x="319.3" y="198.3" font-size="32.6"><tspan font-style="italic">f</tspan><tspan font-size="22.2" dy="7.8">Cen-Vel</tspan><tspan dy="-7.8" dx="0.5" letter-spacing="0.1"> (Loc. 3.2)</tspan></text>
<circle cx="627.5" cy="187.7" r="17.8" fill="#ed7d1e" fill-opacity="0.86" stroke="#000" stroke-width="1.8"/>
<text x="673.3" y="198.3" font-size="32.6"><tspan font-style="italic">f</tspan><tspan font-size="22.2" dy="7.8">Cen-Acc</tspan><tspan dy="-7.8" dx="0.5" letter-spacing="0.1"> (Loc. 3.2)</tspan></text>
<line x1="1306.8" y1="187.2" x2="1378.8" y2="187.2" stroke="#f08420" stroke-width="5.6" stroke-linecap="round" stroke-dasharray="2.5 32.5" stroke-opacity="0.92"/>
<rect x="1327.3" y="171.3" width="31.8" height="31.8" fill="#ed7d1e" fill-opacity="0.86" stroke="#000" stroke-width="1.8"/>
<text x="1389.3" y="198.3" font-size="32.6"><tspan font-style="italic">f</tspan><tspan font-size="22.2" dy="7.8">Cen-Mic</tspan><tspan dy="-7.8" dx="-0.5" letter-spacing="0.0"> (Loc. 3.2)</tspan></text>
<line x1="236.8" y1="234.8" x2="309.6" y2="234.8" stroke="#ece158" stroke-width="6.4" stroke-linecap="round" stroke-dasharray="12 22" stroke-opacity="0.92"/>
<path d="M273.0,210.4 L294.3,247.0 L251.7,247.0 Z" fill="#eee462" fill-opacity="0.86" stroke="#000" stroke-width="1.8" stroke-linejoin="miter"/>
<text x="319.3" y="245.4" font-size="32.6"><tspan font-style="italic">f</tspan><tspan font-size="22.2" dy="7.8">Cen-Vel</tspan><tspan dy="-7.8" dx="0.5" letter-spacing="0.1"> (Loc. 4.1)</tspan></text>
<circle cx="627.5" cy="234.8" r="17.8" fill="#e4da20" fill-opacity="0.86" stroke="#000" stroke-width="1.8"/>
<text x="673.3" y="245.4" font-size="32.6"><tspan font-style="italic">f</tspan><tspan font-size="22.2" dy="7.8">Cen-Acc</tspan><tspan dy="-7.8" dx="0.5" letter-spacing="0.1"> (Loc. 4.1)</tspan></text>
<line x1="1306.8" y1="234.3" x2="1378.8" y2="234.3" stroke="#e6da2c" stroke-width="5.6" stroke-linecap="round" stroke-opacity="0.92"/>
<rect x="1327.3" y="218.4" width="31.8" height="31.8" fill="#e4da20" fill-opacity="0.86" stroke="#000" stroke-width="1.8"/>
<text x="1389.3" y="245.4" font-size="32.6"><tspan font-style="italic">f</tspan><tspan font-size="22.2" dy="7.8">Cen-Mic</tspan><tspan dy="-7.8" dx="-0.5" letter-spacing="0.0"> (Loc. 4.1)</tspan></text>
<text x="1312.0" y="559.9" font-size="44.6">Impact locations</text>
<rect x="1323.2" y="583.7" width="297.3" height="296.4" fill="none" stroke="#000" stroke-width="5.2"/>
<text x="1474.6" y="657.0" text-anchor="middle" font-size="44.5">PMA Plate</text>
<circle cx="1349.7" cy="607.9" r="4.4" fill="none" stroke="#000" stroke-width="1.7" stroke-dasharray="1.75 1.706"/>
<circle cx="1349.7" cy="672.3" r="4.4" fill="none" stroke="#000" stroke-width="1.7" stroke-dasharray="1.75 1.706"/>
<circle cx="1349.7" cy="734.4" r="4.4" fill="none" stroke="#000" stroke-width="1.7" stroke-dasharray="1.75 1.706"/>
<circle cx="1349.7" cy="796.6" r="4.4" fill="none" stroke="#000" stroke-width="1.7" stroke-dasharray="1.75 1.706"/>
<circle cx="1349.7" cy="858.4" r="4.4" fill="none" stroke="#000" stroke-width="1.7" stroke-dasharray="1.75 1.706"/>
<circle cx="1411.8" cy="607.9" r="4.4" fill="none" stroke="#000" stroke-width="1.7" stroke-dasharray="1.75 1.706"/>
<circle cx="1411.8" cy="858.4" r="4.4" fill="none" stroke="#000" stroke-width="1.7" stroke-dasharray="1.75 1.706"/>
<circle cx="1472.5" cy="607.9" r="4.4" fill="none" stroke="#000" stroke-width="1.7" stroke-dasharray="1.75 1.706"/>
<circle cx="1472.5" cy="858.4" r="4.4" fill="none" stroke="#000" stroke-width="1.7" stroke-dasharray="1.75 1.706"/>
<circle cx="1534.5" cy="607.9" r="4.4" fill="none" stroke="#000" stroke-width="1.7" stroke-dasharray="1.75 1.706"/>
<circle cx="1534.5" cy="858.4" r="4.4" fill="none" stroke="#000" stroke-width="1.7" stroke-dasharray="1.75 1.706"/>
<circle cx="1597" cy="607.9" r="4.4" fill="none" stroke="#000" stroke-width="1.7" stroke-dasharray="1.75 1.706"/>
<circle cx="1597" cy="672.3" r="4.4" fill="none" stroke="#000" stroke-width="1.7" stroke-dasharray="1.75 1.706"/>
<circle cx="1597" cy="734.4" r="4.4" fill="none" stroke="#000" stroke-width="1.7" stroke-dasharray="1.75 1.706"/>
<circle cx="1597" cy="796.6" r="4.4" fill="none" stroke="#000" stroke-width="1.7" stroke-dasharray="1.75 1.706"/>
<circle cx="1597" cy="858.4" r="4.4" fill="none" stroke="#000" stroke-width="1.7" stroke-dasharray="1.75 1.706"/>
<path d="M1467.7,732.8 H1487.9 M1477.8,722.7 V742.9" stroke="#c00000" stroke-width="6.6" fill="none"/>
<text x="1501.8" y="748.1" font-size="33.3">1.4</text>
<path d="M1436.7,763.1 H1456.9 M1446.8,753.0 V773.2" stroke="#c00000" stroke-width="6.6" fill="none"/>
<text x="1477.7" y="777.7" font-size="33.3">2.3</text>
<path d="M1405.7,794.6 H1425.9 M1415.8,784.5 V804.7" stroke="#c00000" stroke-width="6.6" fill="none"/>
<text x="1446.6" y="808.5" font-size="33.3">3.2</text>
<path d="M1376.6,826.3 H1396.8 M1386.7,816.2 V836.4" stroke="#c00000" stroke-width="6.6" fill="none"/>
<text x="1416.7" y="839.9" font-size="33.3">4.1</text>
<circle cx="1336.0" cy="867.8" r="9.3" fill="none" stroke="#c00000" stroke-width="2.0"/>
<path d="M1336.0,867.8 V843.8 M1336.0,867.8 H1360.0" stroke="#c00000" stroke-width="3.2" fill="none"/>
<path d="M1336.0,837.3 l5.4,10.8 l-5.4,-3 l-5.4,3 Z" fill="#c00000"/>
<path d="M1366.5,867.8 l-10.8,5.4 l3,-5.4 l-3,-5.4 Z" fill="#c00000"/>
<circle cx="1336.0" cy="867.8" r="3.2" fill="#ff0000"/>
</svg>
</body></html>
